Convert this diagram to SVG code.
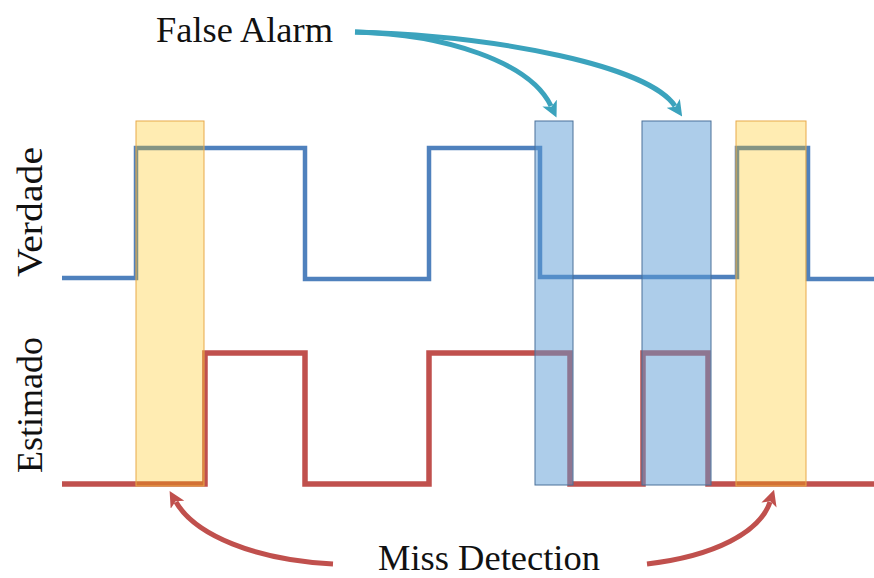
<svg xmlns="http://www.w3.org/2000/svg" width="874" height="578" viewBox="0 0 874 578">
  <style>
    .label { font-family: "Liberation Serif", "Times New Roman", serif; font-size: 36px; fill: #111; }
    .truth { fill: none; stroke: #4F81BD; stroke-width: 4.5; stroke-linejoin: miter; }
    .estimate { fill: none; stroke: #C0504D; stroke-width: 5.5; stroke-linejoin: miter; }
    .miss { fill: #FFC000; fill-opacity: 0.3; stroke: #E8A94A; stroke-width: 1; }
    .fa { fill: #5B9BD5; fill-opacity: 0.5; stroke: #4A7199; stroke-width: 1; }
    .teal { fill: none; stroke: #3BA3BD; stroke-width: 5; marker-end: url(#tealHead); }
    .red { fill: none; stroke: #C0504D; stroke-width: 5; marker-end: url(#redHead); }
  </style>
  <defs>
    <marker id="tealHead" viewBox="0 0 10 10" refX="2" refY="5" markerWidth="3.2" markerHeight="3.2" orient="auto" markerUnits="strokeWidth">
      <path d="M0,0 L10,5 L0,10 L2.5,5 Z" fill="#3BA3BD"/>
    </marker>
    <marker id="redHead" viewBox="0 0 10 10" refX="2" refY="5" markerWidth="3.2" markerHeight="3.2" orient="auto" markerUnits="strokeWidth">
      <path d="M0,0 L10,5 L0,10 L2.5,5 Z" fill="#C0504D"/>
    </marker>
  </defs>

  <rect width="874" height="578" fill="#ffffff"/>

  <!-- ground-truth signal -->
  <g id="verdade-signal">
    <path class="truth" d="M62,278 H136 V148 H305 V279 H429 V148 H540 V277 H737 V148 H808 V279 H874"/>
  </g>

  <!-- estimated signal -->
  <g id="estimado-signal">
    <path class="estimate" d="M62,484 H205 V353 H305 V484 H429 V353 H570 V484 H643 V353 H708 V484 H874"/>
  </g>

  <!-- missed detections -->
  <g id="miss-1"><rect class="miss" x="136" y="121" width="68" height="365"/></g>
  <g id="miss-2"><rect class="miss" x="736" y="121" width="70" height="365"/></g>

  <!-- false alarms -->
  <g id="false-alarm-1"><rect class="fa" x="535" y="121" width="38" height="364"/></g>
  <g id="false-alarm-2"><rect class="fa" x="642" y="121" width="69" height="364"/></g>

  <!-- axis labels -->
  <g id="label-verdade">
    <text class="label" transform="translate(42,212) rotate(-90)" text-anchor="middle" textLength="130" lengthAdjust="spacingAndGlyphs">Verdade</text>
  </g>
  <g id="label-estimado">
    <text class="label" transform="translate(42,405) rotate(-90)" text-anchor="middle">Estimado</text>
  </g>

  <!-- callout titles -->
  <g id="label-false-alarm">
    <text class="label" x="156" y="42" textLength="177" lengthAdjust="spacingAndGlyphs">False Alarm</text>
  </g>
  <g id="label-miss-detection">
    <text class="label" x="378" y="570" textLength="222" lengthAdjust="spacingAndGlyphs">Miss Detection</text>
  </g>

  <!-- callout arrows -->
  <g id="connectors">
    <path class="teal" d="M355,32 C445,34 530,62 551,106"/>
    <path class="teal" d="M355,32 C500,36 648,66 675,106"/>
    <path class="red" d="M333,564 C255,560 195,535 176,502"/>
    <path class="red" d="M647,564 C715,556 760,532 770,502"/>
  </g>
</svg>
